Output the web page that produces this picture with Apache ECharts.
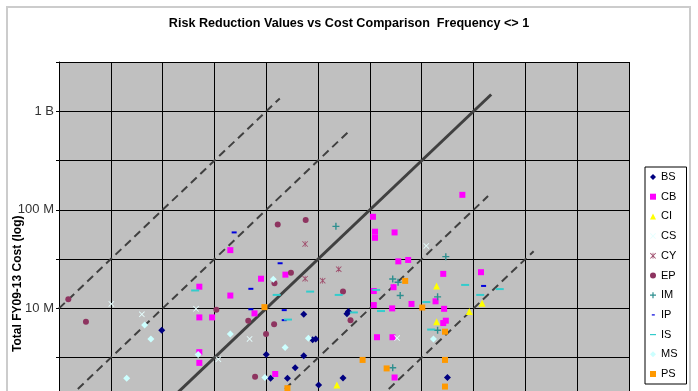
<!DOCTYPE html>
<html>
<head>
<meta charset="utf-8">
<script src="https://cdn.jsdelivr.net/npm/echarts@6/dist/echarts.min.js"></script>
<style>
  html, body { margin: 0; padding: 0; background: #fff; }
  #chartBox { width: 698px; height: 391px; }
</style>
</head>
<body>
<div id="chartBox"></div>
<script>
// [risk reduction value, total FY09-13 cost] in dollars
const BS = [[9.8e5, 6.0e6], [2.3e7, 8.7e6], [2.8e7, 4.8e6], [3.0e7, 4.9e6], [1.0e7, 3.4e6],
  [2.3e7, 3.3e6], [1.9e7, 2.5e6], [1.1e7, 1.96e6], [1.6e7, 1.96e6], [3.2e7, 1.67e6],
  [5.5e7, 1.97e6], [6.0e7, 8.8e6], [6.2e7, 9.3e6], [5.6e8, 1.99e6]];
const CB = [[4.5e6, 3.9e7], [2.26e6, 1.66e7], [4.5e6, 1.35e7], [2.26e6, 8.1e6], [3.0e6, 8.1e6],
  [2.26e6, 3.6e6], [2.26e6, 2.8e6], [8.9e6, 2.0e7], [1.53e7, 2.2e7], [7.7e6, 8.9e6],
  [1.22e7, 2.16e6], [1.07e8, 8.5e7], [1.12e8, 6.0e7], [1.12e8, 5.2e7], [1.73e8, 5.9e7],
  [1.88e8, 3.0e7], [2.34e8, 3.1e7], [5.1e8, 2.24e7], [1.18e9, 2.33e7], [7.8e8, 1.42e8],
  [1.69e8, 1.64e7], [1.09e8, 1.5e7], [1.09e8, 1.08e7], [1.64e8, 1.0e7], [2.52e8, 1.11e7],
  [4.3e8, 1.18e7], [5.2e8, 9.9e6], [5.1e8, 7.1e6], [5.4e8, 7.5e6], [1.17e8, 5.1e6],
  [1.65e8, 5.1e6], [1.73e8, 1.99e6]];
const CI = [[4.4e8, 1.69e7], [1.21e9, 1.13e7], [9.1e8, 9.3e6], [4.4e8, 7.3e6], [4.8e7, 1.67e6]];
const CS = [[3.2e5, 1.11e7], [6.3e5, 8.7e6], [2.1e6, 9.9e6], [6.9e6, 4.9e6], [3.45e6, 3.05e6],
  [3.5e8, 4.3e7], [1.83e8, 5.0e6]];
const CY = [[2.37e7, 4.5e7], [2.37e7, 2.0e7], [3.5e7, 1.91e7], [5.0e7, 2.5e7]];
const EP = [[1.23e5, 1.24e7], [1.82e5, 7.3e6], [3.3e6, 9.7e6], [6.7e6, 7.5e6], [1.19e7, 6.9e6],
  [9.95e6, 5.5e6], [7.8e6, 2.02e6], [1.29e7, 7.1e7], [2.4e7, 7.9e7], [1.73e7, 2.3e7],
  [1.2e7, 1.8e7], [5.5e7, 1.48e7], [6.5e7, 7.6e6]];
const IM = [[4.7e7, 6.8e7], [5.4e8, 3.35e7], [1.66e8, 1.99e7], [1.87e8, 1.84e7], [1.96e8, 1.35e7],
  [4.5e8, 1.31e7], [4.5e8, 6.0e6], [1.66e8, 2.5e6]];
const IP = [[4.9e6, 5.9e7], [1.36e7, 2.87e7], [7.1e6, 1.58e7], [7.1e6, 9.8e6], [1.49e7, 9.6e6],
  [1.49e7, 7.6e6], [1.25e9, 1.69e7]];
const IS = [[2.06e6, 1.52e7], [1.26e7, 1.37e7], [2.65e7, 1.48e7], [5.0e7, 1.37e7], [1.62e7, 7.7e6],
  [7.0e7, 9.1e6], [1.28e8, 9.4e6], [3.5e8, 1.16e7], [3.9e8, 6.1e6], [8.3e8, 1.73e7],
  [1.79e9, 1.57e7], [1.16e9, 1.37e7], [1.15e8, 1.54e7]];
const MS = [[6.7e5, 6.8e6], [7.7e5, 4.9e6], [4.5e5, 1.96e6], [2.2e6, 3.4e6], [4.5e6, 5.5e6],
  [1.52e7, 4.0e6], [2.55e7, 4.97e6], [1.17e7, 1.98e7], [9.7e6, 1.99e6], [4.1e8, 4.9e6]];
const PS = [[9.6e6, 1.03e7], [1.6e7, 1.55e6], [8.5e7, 3.0e6], [1.45e8, 2.46e6], [2.19e8, 1.9e7],
  [3.2e8, 1.02e7], [5.3e8, 5.8e6], [5.3e8, 3.0e6], [5.3e8, 1.61e6]];

// cost = ratio x risk reduction guide lines (start / end points)
const guideRatio100 = [[1e5, 1e7], [1.35e7, 1.35e9]];
const guideRatio10 = [[1e5, 1e6], [6.5e7, 6.5e8]];
const guideRatio1 = [[1e5, 1e5], [1.48e9, 1.48e9]];
const guideRatio01 = [[1e6, 1e5], [1.38e9, 1.38e8]];
const guideRatio001 = [[1e7, 1e5], [3.8e9, 3.8e7]];

const costLabels = { 9: '1 B', 8: '100 M', 7: '10 M', 6: '1 M', 5: '100 K' };

const toLog = (pts) => pts.map(p => [Math.log10(p[0]), Math.log10(p[1])]);

const X_PATH = 'path://M0,1L1,0L5,4L9,0L10,1L6,5L10,9L9,10L5,6L1,10L0,9L4,5Z';
const PLUS_PATH = 'path://M4,0H6V4H10V6H6V10H4V6H0V4H4Z';
const STAR_PATH = 'path://M0,1L1,0L5,4L9,0L10,1L6,5L10,9L9,10L5,6L1,10L0,9L4,5Z' +
  'M4.4,0H5.6V10H4.4Z';

function scatter(name, data, symbol, size, color) {
  return {
    name: name,
    type: 'scatter',
    data: toLog(data),
    symbol: symbol,
    symbolSize: size,
    itemStyle: { color: color, opacity: 1 },
    z: 5
  };
}

function guide(data, solid) {
  return {
    type: 'line',
    data: toLog(data),
    showSymbol: false,
    silent: true,
    lineStyle: {
      color: '#404040',
      width: solid ? 3 : 2,
      type: solid ? 'solid' : [8, 5]
    },
    z: 3
  };
}

const chart = echarts.init(document.getElementById('chartBox'));

const option = {
  animation: false,
  backgroundColor: '#fff',
  textStyle: { fontFamily: 'Liberation Sans, Arial, sans-serif' },
  title: {
    text: 'Risk Reduction Values vs Cost Comparison  Frequency <> 1',
    left: 'center',
    top: 12,
    textStyle: { fontSize: 12.6, fontWeight: 'bold', color: '#000' }
  },
  graphic: [{
    type: 'rect',
    shape: { x: 7, y: 7, width: 683, height: 420 },
    style: { fill: null, stroke: '#cccccc', lineWidth: 2 },
    silent: true
  }],
  legend: {
    orient: 'vertical',
    left: 645,
    top: 167,
    padding: [3, 9, 3, 5],
    itemGap: 5.7,
    itemWidth: 6,
    itemHeight: 6,
    itemTextGap: 6,
    borderColor: '#000',
    borderWidth: 1,
    backgroundColor: '#fff',
    textStyle: { fontSize: 11, color: '#000', lineHeight: 14 },
    data: [
      'BS', 'CB', 'CI', 'CS', 'CY', 'EP', 'IM',
      { name: 'IP', icon: 'path://M0,0M10,10M3,4H8V6H3Z' },
      { name: 'IS', icon: 'path://M0,0M10,10M0,4H10V6H0Z' },
      'MS', 'PS'
    ]
  },
  grid: {
    left: 59,
    right: 69,
    top: 62,
    bottom: -114.5,
    show: true,
    backgroundColor: '#c0c0c0',
    borderWidth: 0,
    containLabel: false,
    outerBoundsMode: 'none'
  },
  xAxis: {
    type: 'value',
    min: 5,
    max: 10.5,
    interval: 0.5,
    axisLine: { show: true, lineStyle: { color: '#000' } },
    axisTick: { show: false },
    axisLabel: { show: false },
    splitLine: { show: true, lineStyle: { color: '#000', width: 1 } }
  },
  yAxis: {
    type: 'value',
    min: 5,
    max: 9.5,
    interval: 0.5,
    name: 'Total FY09-13 Cost (log)',
    nameLocation: 'middle',
    nameGap: 35,
    nameMoveOverlap: false,
    nameTextStyle: { fontSize: 12, fontWeight: 'bold', color: '#000' },
    axisLine: { show: true, lineStyle: { color: '#000' } },
    axisTick: { show: true, length: 3, lineStyle: { color: '#000' } },
    axisLabel: {
      fontSize: 13,
      color: '#333',
      margin: 5,
      formatter: (v) => costLabels[v] || ''
    },
    splitLine: { show: true, lineStyle: { color: '#000', width: 1 } }
  },
  series: [
    guide(guideRatio100, false),
    guide(guideRatio10, false),
    guide(guideRatio1, true),
    guide(guideRatio01, false),
    guide(guideRatio001, false),
    scatter('BS', BS, 'diamond', 7, '#000080'),
    scatter('CB', CB, 'rect', 6, '#ff00ff'),
    scatter('CI', CI, 'triangle', 7, '#ffff00'),
    scatter('CS', CS, X_PATH, 6, '#e6ffff'),
    scatter('CY', CY, STAR_PATH, 6, '#a0506e'),
    scatter('EP', EP, 'circle', 6, '#8e3460'),
    scatter('IM', IM, PLUS_PATH, 7, '#2e8f8f'),
    scatter('IP', IP, 'rect', [5, 2], '#0000dd'),
    scatter('IS', IS, 'rect', [8, 2], '#33cccc'),
    scatter('MS', MS, 'diamond', 7, '#ccffff'),
    scatter('PS', PS, 'rect', 6, '#ff9900')
  ]
};

chart.setOption(option);
</script>
</body>
</html>
